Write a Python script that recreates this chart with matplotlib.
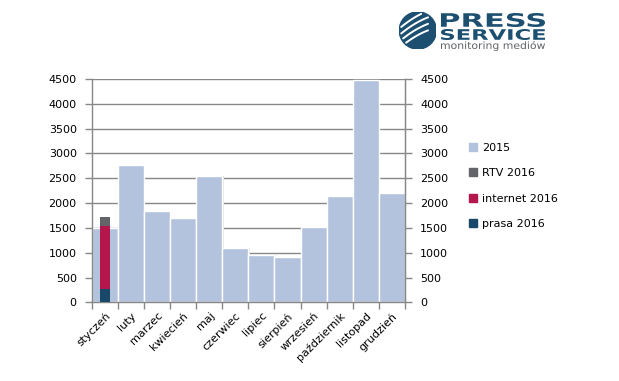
import numpy as np
import matplotlib
matplotlib.use('Agg')
import matplotlib.pyplot as plt
from matplotlib.patches import Circle, Rectangle, PathPatch
from matplotlib.textpath import TextPath
from matplotlib.font_manager import FontProperties
from matplotlib.transforms import Affine2D

# data
months = ['styczeń', 'luty', 'marzec', 'kwiecień', 'maj', 'czerwiec', 'lipiec',
          'sierpień', 'wrzesień', 'październik', 'listopad', 'grudzień']
values_2015 = [1500, 2770, 1830, 1690, 2550, 1100, 960, 920, 1520, 2150, 4480, 2210]
prasa_2016 = [270]
internet_2016 = [1275]
rtv_2016 = [180]

c2015 = '#b4c3dd'
crtv = '#636467'
cint = '#b5164b'
cprasa = '#18496a'
grid_col = '#878787'

W, H = 619, 381
fig = plt.figure(figsize=(6.19, 3.81), dpi=100)
ax = fig.add_axes([0.1486, 0.2065, 0.5054, 0.5862])

x = np.arange(len(months))
ax.bar(x + 0.05, values_2015, width=1.0, color='#e6e6e6', zorder=1, linewidth=0)  # faint shadow
ax.bar(x, values_2015, width=1.0, color=c2015, edgecolor='white', linewidth=1.0, zorder=2)

# stacked 2016 column (January only)
n = len(prasa_2016)
bw = 0.38
ax.bar(x[:n], prasa_2016, width=bw, color=cprasa, zorder=3, linewidth=0)
ax.bar(x[:n], internet_2016, width=bw, bottom=prasa_2016, color=cint, zorder=3, linewidth=0)
bottom2 = np.array(prasa_2016) + np.array(internet_2016)
ax.bar(x[:n], rtv_2016, width=bw, bottom=bottom2, color=crtv, zorder=3, linewidth=0)

ax.set_xlim(-0.5, len(months) - 0.5)
ax.set_ylim(0, 4500)
yt = np.arange(0, 4501, 500)
ax.set_yticks(yt)
ax.yaxis.grid(True, color=grid_col, linewidth=1.0, zorder=0)
ax.set_axisbelow(True)

ax.set_xticks(x)
ax.set_xticklabels(months, rotation=45, ha='right', rotation_mode='anchor', fontsize=8)
ax.tick_params(axis='x', length=0, pad=6)
ax.set_xticks(np.arange(-0.5, len(months), 1.0), minor=True)
ax.tick_params(axis='x', which='minor', length=5, color=grid_col, width=1)
ax.tick_params(axis='y', length=5, color=grid_col, width=1, labelsize=8, pad=6)

ax.spines['top'].set_visible(False)
for s in ['left', 'right', 'bottom']:
    ax.spines[s].set_color(grid_col)
    ax.spines[s].set_linewidth(1.0)

ax2 = ax.twinx()
ax2.set_ylim(0, 4500)
ax2.set_yticks(yt)
ax2.tick_params(axis='y', length=5, color=grid_col, width=1, labelsize=8, pad=6)
for s in ['top', 'left', 'bottom']:
    ax2.spines[s].set_visible(False)
ax2.spines['right'].set_color(grid_col)

# legend
handles = [Rectangle((0, 0), 1, 1, color=c) for c in [c2015, crtv, cint, cprasa]]
labels = ['2015', 'RTV 2016', 'internet 2016', 'prasa 2016']
fig.legend(handles, labels, loc='upper left', bbox_to_anchor=(0.742, 0.652),
           frameon=False, fontsize=8, handlelength=0.7, handleheight=0.7,
           handletextpad=0.45, labelspacing=1.4)

# logo
logo_col = '#1c4f70'
lax = fig.add_axes([0.645, 0.87, 0.06, 0.1])
lax.set_xlim(-1, 1)
lax.set_ylim(-1, 1)
lax.set_aspect('equal')
lax.axis('off')
lax.add_patch(Circle((0, 0), 1, color=logo_col))
for c in [-0.25, 0.1, 0.45, 0.8]:
    xs = np.linspace(-1, 0.55, 60)
    ys = 0.55 * xs + c - 0.15 * xs ** 2
    m = xs ** 2 + ys ** 2 < 0.85
    lax.plot(xs[m], ys[m], color='white', lw=1.4, solid_capstyle='round')

# stretched logo lettering, placed in pixel coordinates
tax = fig.add_axes([0, 0, 1, 1])
tax.set_xlim(0, W)
tax.set_ylim(H, 0)
tax.axis('off')


def box_text(s, x0, x1, y0, y1, color, weight='bold'):
    fp = FontProperties(family='DejaVu Sans', weight=weight)
    tp = TextPath((0, 0), s, size=10, prop=fp)
    bb = tp.get_extents()
    sx = (x1 - x0) / bb.width
    sy = (y1 - y0) / bb.height
    tr = Affine2D().translate(-bb.x0, -bb.y0).scale(sx, -sy).translate(x0, y1)
    tax.add_patch(PathPatch(tr.transform_path(tp), color=color, lw=0))


box_text('PRESS', 441, 545, 13, 27, logo_col)
box_text('SERVICE', 441, 545, 29, 40, logo_col)
box_text('monitoring mediów', 441, 545, 41, 51, '#5f6366', weight='normal')

fig.savefig('out.png', dpi=100)
